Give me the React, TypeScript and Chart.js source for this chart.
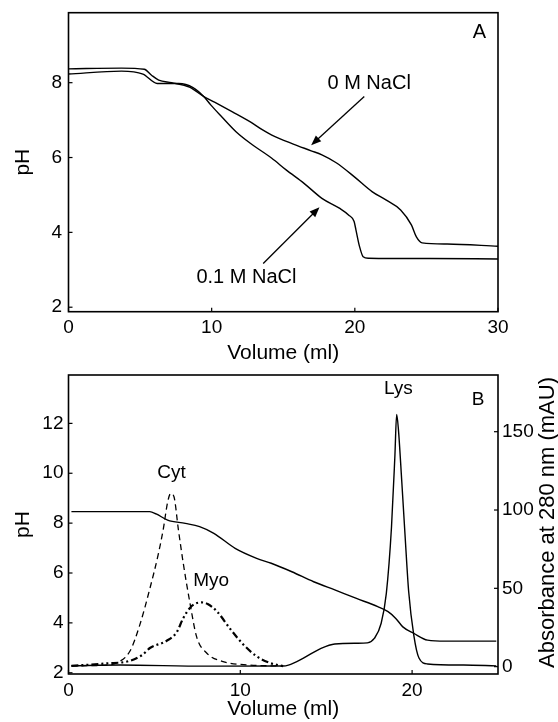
import React, { useEffect, useRef } from 'react';
import { Chart, registerables } from 'chart.js';

Chart.register(...registerables);

const FONT = '"Liberation Sans", Arial, Helvetica, sans-serif';

// ---------------- Panel A data ----------------
const volA0 = [0, 3.7, 5.3, 5.8, 6.3, 7.2, 8.45, 9.45, 10.2, 11.45, 12.7, 13.5, 14.2, 15.7, 16.95, 17.7, 18.7, 19.95, 21.2, 22.2, 23.2, 23.95, 24.3, 24.7, 26.45, 30];
const phA0 = [8.37, 8.39, 8.36, 8.2, 8.07, 8.0, 7.88, 7.63, 7.48, 7.22, 6.95, 6.75, 6.6, 6.36, 6.18, 6.07, 5.86, 5.49, 5.09, 4.86, 4.6, 4.2, 3.88, 3.72, 3.69, 3.63];
const volA1 = [0, 3.7, 5.2, 6.2, 7.7, 8.7, 9.45, 9.95, 10.7, 11.7, 12.7, 14.2, 15.2, 16.45, 17.7, 18.95, 19.58, 19.95, 20.08, 20.33, 20.58, 20.95, 25.2, 30];
const phA1 = [8.23, 8.31, 8.23, 7.98, 7.98, 7.87, 7.63, 7.4, 7.09, 6.69, 6.38, 5.98, 5.67, 5.31, 4.91, 4.64, 4.46, 4.29, 4.06, 3.62, 3.35, 3.31, 3.3, 3.29];
const xTicksA = [0, 10, 20, 30];
const yTicksA = [2, 4, 6, 8];
const labelsA = ['0 M NaCl', '0.1 M NaCl', 'A'];

// ---------------- Panel B data ----------------
const volBpH = [0.17, 4.73, 5.1, 5.77, 6.8, 7.63, 8.46, 9.7, 10.95, 11.8, 13.0, 14.27, 15.5, 16.76, 18.0, 18.6, 19.05, 19.46, 20.1, 20.9, 21.95, 24.9];
const phB = [8.46, 8.46, 8.37, 8.12, 7.99, 7.86, 7.59, 6.99, 6.59, 6.39, 6.05, 5.65, 5.32, 4.98, 4.65, 4.45, 4.18, 3.84, 3.58, 3.31, 3.27, 3.27];
const volLys = [0.17, 3.0, 8.0, 12.5, 12.8, 13.65, 14.7, 15.5, 16.8, 17.4, 17.8, 18.2, 18.5, 18.8, 19.0, 19.1, 19.2, 19.4, 19.6, 19.8, 20.1, 20.4, 20.9, 23.0, 24.9];
const absLys = [0.5, 1.0, 0.3, 0.4, 1.0, 5.3, 11.7, 14.5, 14.9, 15.2, 18, 27.7, 46.8, 89, 135, 161, 152, 118, 82, 48, 20, 5.5, 1.7, 1.0, 0.5];
const volCyt = [0.17, 2.2, 2.8, 3.58, 4.16, 4.74, 5.23, 5.52, 5.77, 5.95, 6.14, 6.39, 6.68, 7.07, 7.46, 8.04, 9.0, 10.56, 12.2];
const absCyt = [0.5, 1, 2.3, 10, 27, 50, 72, 88, 105, 110.6, 108.5, 88, 66, 40.6, 19, 8.7, 3.2, 1, 0.4];
const volMyo = [0.17, 2.24, 3.5, 4.3, 4.74, 5.72, 6.3, 6.68, 7.07, 7.4, 7.75, 8.1, 8.63, 9.4, 10.16, 10.95, 11.73, 12.49];
const absMyo = [0.5, 2.1, 3.5, 7.5, 11.9, 16.5, 22, 31, 37.5, 40.3, 41, 40, 35.4, 24.3, 14.3, 6.6, 2.3, 0.3];
const xTicksB = [0, 10, 20];
const yTicksB = [2, 4, 6, 8, 10, 12];
const y2TicksB = [0, 50, 100, 150];
const labelsB = ['Cyt', 'Myo', 'Lys', 'B'];

const pts = (xs: number[], ys: number[]) => xs.map((x, i) => ({ x, y: ys[i] }));

const setTicks = (vals: number[]) => (s: any) => {
  s.ticks = vals.map((v) => ({ value: v }));
};

function fitter(kind: 'x' | 'y', size: number) {
  return (s: any) => {
    if (kind === 'x') s.height = size;
    else s.width = size;
    s.paddingTop = 0;
    s.paddingBottom = 0;
    s.paddingLeft = 0;
    s.paddingRight = 0;
  };
}

function drawArrow(ctx: CanvasRenderingContext2D, x1: number, y1: number, x2: number, y2: number) {
  const a = Math.atan2(y2 - y1, x2 - x1);
  const L = 10, W = 4;
  ctx.beginPath();
  ctx.moveTo(x1, y1);
  ctx.lineTo(x2 - Math.cos(a) * L * 0.8, y2 - Math.sin(a) * L * 0.8);
  ctx.stroke();
  ctx.beginPath();
  ctx.moveTo(x2, y2);
  ctx.lineTo(x2 - Math.cos(a) * L + Math.sin(a) * W, y2 - Math.sin(a) * L - Math.cos(a) * W);
  ctx.lineTo(x2 - Math.cos(a) * L - Math.sin(a) * W, y2 - Math.sin(a) * L + Math.cos(a) * W);
  ctx.closePath();
  ctx.fill();
}

type Ann = { text: string; x: number; y: number; axis: string; size: number };
type Arr = { x1: number; y1: number; x2: number; y2: number; axis: string };

function framePlugin(anns: Ann[], arrows: Arr[], rightTitle?: string) {
  return {
    id: 'frame',
    afterDraw(chart: any) {
      const ctx: CanvasRenderingContext2D = chart.ctx;
      const ca = chart.chartArea;
      ctx.save();
      ctx.strokeStyle = '#000';
      ctx.fillStyle = '#000';
      ctx.lineWidth = 1.6;
      ctx.strokeRect(ca.left, ca.top, ca.right - ca.left, ca.bottom - ca.top);
      const TL = 4;
      ctx.lineWidth = 1.2;
      const xs = chart.scales.x;
      xs.ticks.forEach((t: any) => {
        const p = xs.getPixelForValue(t.value);
        ctx.beginPath();
        ctx.moveTo(p, ca.bottom);
        ctx.lineTo(p, ca.bottom - TL);
        ctx.stroke();
      });
      const ys = chart.scales.y;
      ys.ticks.forEach((t: any) => {
        const p = ys.getPixelForValue(t.value);
        ctx.beginPath();
        ctx.moveTo(ca.left, p);
        ctx.lineTo(ca.left + TL, p);
        ctx.stroke();
      });
      const y2 = chart.scales.y2;
      if (y2) {
        y2.ticks.forEach((t: any) => {
          const p = y2.getPixelForValue(t.value);
          ctx.beginPath();
          ctx.moveTo(ca.right, p);
          ctx.lineTo(ca.right - TL, p);
          ctx.stroke();
        });
      }
      ctx.lineWidth = 1.3;
      arrows.forEach((a) => {
        const sy = chart.scales[a.axis];
        drawArrow(ctx, xs.getPixelForValue(a.x1), sy.getPixelForValue(a.y1), xs.getPixelForValue(a.x2), sy.getPixelForValue(a.y2));
      });
      ctx.textAlign = 'center';
      ctx.textBaseline = 'middle';
      anns.forEach((a) => {
        const sy = chart.scales[a.axis];
        ctx.font = `${a.size}px ${FONT}`;
        ctx.fillText(a.text, xs.getPixelForValue(a.x), sy.getPixelForValue(a.y));
      });
      if (rightTitle) {
        ctx.save();
        ctx.translate(ca.right + 49.5, (ca.top + ca.bottom) / 2 - 2);
        ctx.rotate(-Math.PI / 2);
        ctx.font = `22px ${FONT}`;
        ctx.fillText(rightTitle, 0, 0);
        ctx.restore();
      }
      ctx.restore();
    },
  };
}

const lineDs = (data: any[], axis: string, extra: any = {}) => ({
  data,
  yAxisID: axis,
  showLine: true,
  borderColor: '#000',
  backgroundColor: '#000',
  borderWidth: 1.4,
  pointRadius: 0,
  fill: false,
  cubicInterpolationMode: 'monotone',
  ...extra,
});

const tickFont = { family: FONT, size: 19 };
const titleFont = { family: FONT, size: 21 };

function configA(): any {
  return {
    type: 'scatter',
    data: {
      datasets: [lineDs(pts(volA0, phA0), 'y'), lineDs(pts(volA1, phA1), 'y')],
    },
    options: {
      responsive: false,
      animation: false,
      devicePixelRatio: 1,
      layout: { padding: { left: 0, right: 60, top: 12.7, bottom: 0 } },
      plugins: { legend: { display: false }, tooltip: { enabled: false } },
      scales: {
        x: {
          type: 'linear',
          min: 0,
          max: 30,
          afterBuildTicks: setTicks(xTicksA),
          afterFit: fitter('x', 56.3),
          grid: { display: false, drawTicks: false },
          border: { display: false },
          ticks: { font: tickFont, color: '#000', padding: 5, maxRotation: 0 },
          title: { display: true, text: 'Volume (ml)', font: titleFont, color: '#000', padding: { top: 0, bottom: 1.7 } },
        },
        y: {
          type: 'linear',
          min: 1.88,
          max: 9.87,
          afterBuildTicks: setTicks(yTicksA),
          afterFit: fitter('y', 68.5),
          grid: { display: false, drawTicks: false },
          border: { display: false },
          ticks: { font: tickFont, color: '#000', padding: 6.5 },
          title: { display: true, text: 'pH', font: titleFont, color: '#000', padding: { top: 10.7, bottom: 0 } },
        },
      },
    },
    plugins: [
      framePlugin(
        [
          { text: labelsA[0], x: 21.0, y: 7.98, axis: 'y', size: 20 },
          { text: labelsA[1], x: 12.43, y: 2.8, axis: 'y', size: 20 },
          { text: labelsA[2], x: 28.7, y: 9.33, axis: 'y', size: 20 },
        ],
        [
          { x1: 20.66, y1: 7.63, x2: 16.95, y2: 6.33, axis: 'y' },
          { x1: 13.6, y1: 3.17, x2: 17.53, y2: 4.67, axis: 'y' },
        ]
      ),
    ],
  };
}

function configB(): any {
  return {
    type: 'scatter',
    data: {
      datasets: [
        lineDs(pts(volBpH, phB), 'y'),
        lineDs(pts(volLys, absLys), 'y2'),
        lineDs(pts(volCyt, absCyt), 'y2', { borderDash: [6, 4], borderWidth: 1.3 }),
        lineDs(pts(volMyo, absMyo), 'y2', { borderDash: [7, 3, 2, 3, 2, 3], borderWidth: 2.2 }),
      ],
    },
    options: {
      responsive: false,
      animation: false,
      devicePixelRatio: 1,
      layout: { padding: { left: 0, right: 0, top: 7, bottom: 0 } },
      plugins: { legend: { display: false }, tooltip: { enabled: false } },
      scales: {
        x: {
          type: 'linear',
          min: 0,
          max: 25,
          afterBuildTicks: setTicks(xTicksB),
          afterFit: fitter('x', 48),
          grid: { display: false, drawTicks: false },
          border: { display: false },
          ticks: { font: tickFont, color: '#000', padding: 5, maxRotation: 0 },
          title: { display: true, text: 'Volume (ml)', font: titleFont, color: '#000', padding: { top: 0, bottom: 0 } },
        },
        y: {
          type: 'linear',
          position: 'left',
          min: 1.95,
          max: 13.94,
          afterBuildTicks: setTicks(yTicksB),
          afterFit: fitter('y', 68.5),
          grid: { display: false, drawTicks: false },
          border: { display: false },
          ticks: { font: tickFont, color: '#000', padding: 5 },
          title: { display: true, text: 'pH', font: titleFont, color: '#000', padding: { top: 10.7, bottom: 0 } },
        },
        y2: {
          type: 'linear',
          position: 'right',
          min: -4.7,
          max: 186.2,
          afterBuildTicks: setTicks(y2TicksB),
          afterFit: fitter('y', 60),
          grid: { display: false, drawTicks: false },
          border: { display: false },
          ticks: { font: tickFont, color: '#000', padding: 4 },
        },
      },
    },
    plugins: [
      framePlugin(
        [
          { text: labelsB[0], x: 6.0, y: 123.6, axis: 'y2', size: 19 },
          { text: labelsB[1], x: 8.3, y: 55, axis: 'y2', size: 19 },
          { text: labelsB[2], x: 19.2, y: 177.7, axis: 'y2', size: 19 },
          { text: labelsB[3], x: 23.84, y: 170.4, axis: 'y2', size: 19 },
        ],
        [],
        'Absorbance at 280 nm (mAU)'
      ),
    ],
  };
}

function Panel({ make, top, height }: { make: () => any; top: number; height: number }) {
  const ref = useRef<HTMLCanvasElement>(null);
  useEffect(() => {
    const chart = new Chart(ref.current as HTMLCanvasElement, make());
    return () => chart.destroy();
  }, []);
  return (
    <canvas
      ref={ref}
      width={558}
      height={height}
      style={{ position: 'absolute', left: 0, top, width: 558, height, display: 'block' }}
    />
  );
}

export default function App() {
  return (
    <div style={{ position: 'absolute', left: 0, top: 0, width: 558, height: 722, background: '#fff', overflow: 'hidden' }}>
      <Panel make={configA} top={0} height={368} />
      <Panel make={configB} top={368} height={354} />
    </div>
  );
}
